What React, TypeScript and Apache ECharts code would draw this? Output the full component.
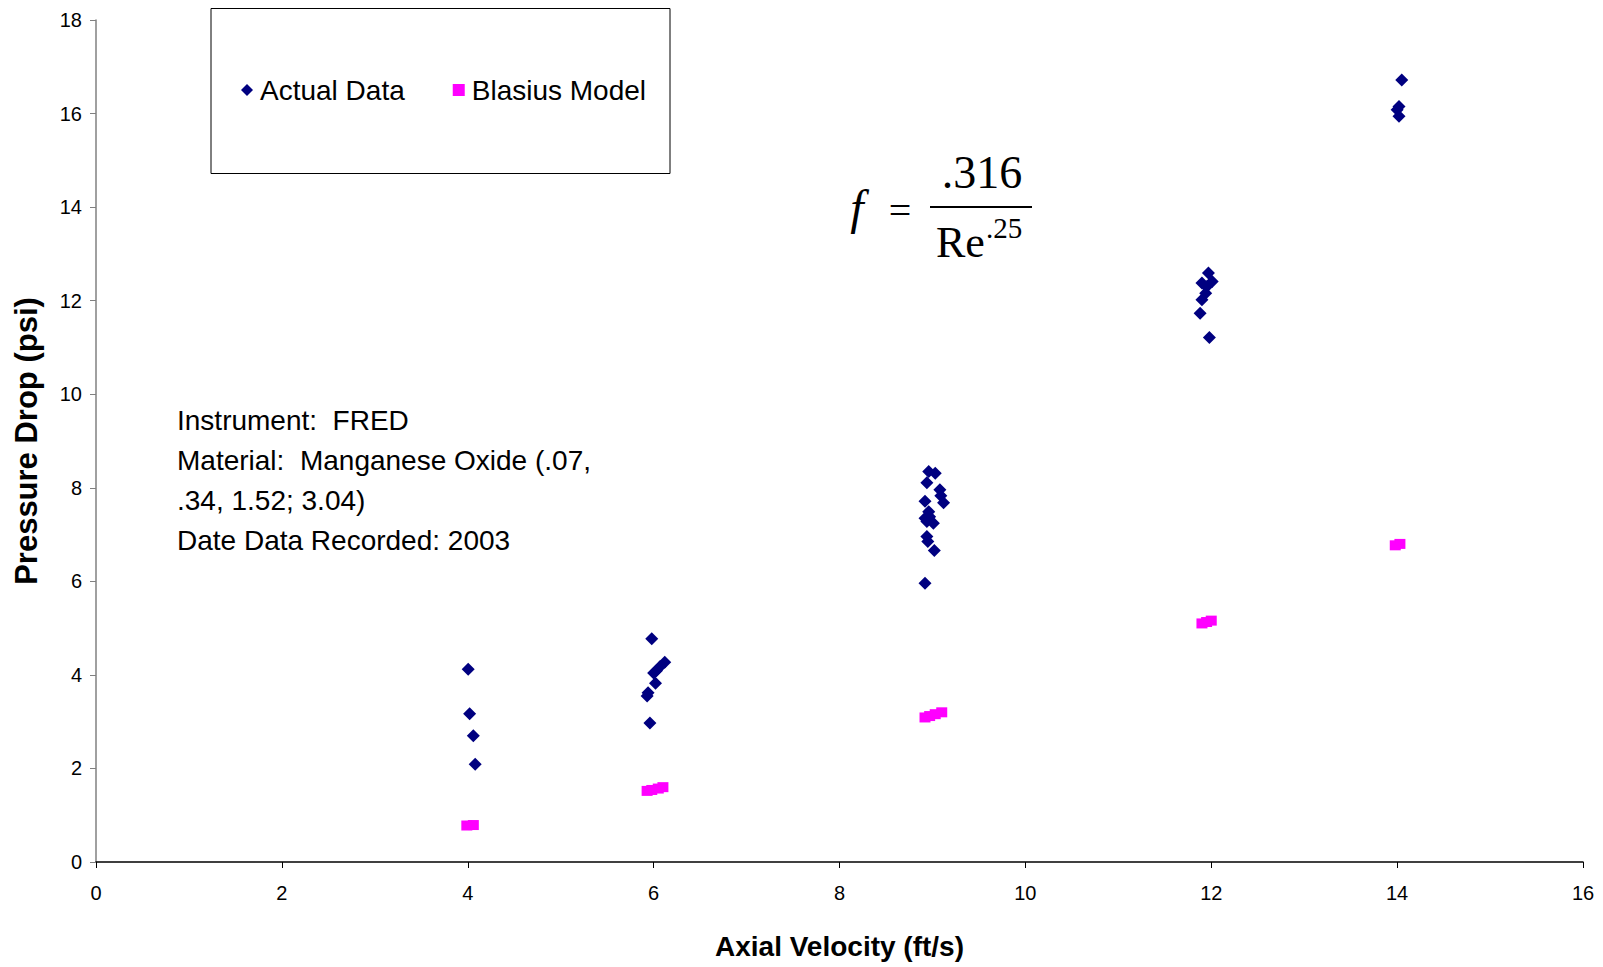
import React, { useEffect, useRef } from "react";
import * as echarts from "echarts";

const xTicks = [0, 2, 4, 6, 8, 10, 12, 14, 16];
const yTicks = [0, 2, 4, 6, 8, 10, 12, 14, 16, 18];

const actualX = [
  4.005, 4.02, 4.06, 4.08,
  5.98, 6.12, 6.07, 6.03, 6.0, 6.02, 5.94, 5.93, 5.96,
  8.96, 9.03, 8.94, 9.08, 9.09, 9.12, 8.92, 8.96, 8.92, 8.97, 9.01, 8.94, 8.94, 8.95, 9.02, 8.92,
  11.97, 12.01, 11.9, 11.95, 11.94, 11.9, 11.88, 11.98,
  14.05, 14.02, 14.0, 14.02,
];
const actualY = [
  4.12, 3.17, 2.7, 2.09,
  4.77, 4.27, 4.18, 4.09, 4.04, 3.82, 3.62, 3.55, 2.97,
  8.35, 8.31, 8.11, 7.96, 7.83, 7.68, 7.71, 7.49, 7.35, 7.38, 7.24, 7.28, 6.96, 6.85, 6.66, 5.96,
  12.59, 12.41, 12.38, 12.3, 12.16, 12.02, 11.73, 11.21,
  16.72, 16.15, 16.08, 15.94,
];

const blasiusX = [3.99, 4.06, 5.93, 5.98, 6.05, 6.1, 8.92, 8.97, 9.03, 9.1, 11.9, 11.95, 12.0, 13.98, 14.03];
const blasiusY = [0.78, 0.79, 1.52, 1.54, 1.57, 1.6, 3.09, 3.12, 3.16, 3.2, 5.1, 5.13, 5.16, 6.77, 6.8];

const seriesNames = ["Actual Data", "Blasius Model"];
const xAxisTitle = "Axial Velocity (ft/s)";
const yAxisTitle = "Pressure Drop (psi)";
const noteLines = [
  "Instrument:  FRED",
  "Material:  Manganese Oxide (.07,",
  ".34, 1.52; 3.04)",
  "Date Data Recorded: 2003",
];

export default function App() {
  const ref = useRef<HTMLDivElement>(null);
  useEffect(() => {
    document.body.style.margin = "0";
    if (!ref.current) return;
    const chart = echarts.init(ref.current, undefined, { renderer: "svg" });
    const sans = "'Liberation Sans', Arial, sans-serif";
    const serif = "'Liberation Serif', 'Times New Roman', serif";
    chart.setOption({
      animation: false,
      backgroundColor: "#fff",
      grid: { left: 96, right: 20, top: 20, bottom: 105, containLabel: false },
      xAxis: {
        type: "value",
        min: xTicks[0],
        max: xTicks[xTicks.length - 1],
        interval: 2,
        name: xAxisTitle,
        nameLocation: "middle",
        nameGap: 70,
        nameTextStyle: { fontFamily: sans, fontWeight: "bold", fontSize: 28, color: "#000" },
        axisLine: { show: true, onZero: false, lineStyle: { color: "#000", width: 1.5 } },
        axisTick: { show: true, inside: false, length: 6, lineStyle: { color: "#000" } },
        axisLabel: { fontFamily: sans, fontSize: 20, color: "#000", margin: 21 },
        splitLine: { show: false },
      },
      yAxis: {
        type: "value",
        min: yTicks[0],
        max: yTicks[yTicks.length - 1],
        interval: 2,
        name: yAxisTitle,
        nameLocation: "middle",
        nameGap: 54,
        nameTextStyle: { fontFamily: sans, fontWeight: "bold", fontSize: 31, color: "#000" },
        axisLine: { show: true, onZero: false, lineStyle: { color: "#808080", width: 1.5 } },
        axisTick: { show: true, inside: false, length: 6, lineStyle: { color: "#808080" } },
        axisLabel: { fontFamily: sans, fontSize: 20, color: "#000", margin: 14 },
        splitLine: { show: false },
      },
      legend: {
        left: 236,
        top: 71,
        itemGap: 48,
        itemWidth: 12,
        itemHeight: 12,
        textStyle: { fontFamily: sans, fontSize: 28, color: "#000", padding: [0, 0, 0, 2] },
        data: [
          { name: seriesNames[0], icon: "diamond", itemStyle: { color: "#000080", opacity: 1 } },
          { name: seriesNames[1], icon: "rect", itemStyle: { color: "#FF00FF", opacity: 1 } },
        ],
      },
      graphic: [
        {
          type: "rect",
          shape: { x: 211, y: 8.5, width: 459, height: 165 },
          style: { fill: "none", stroke: "#000", lineWidth: 1 },
          z: 10,
        },
        {
          type: "text",
          x: 177,
          y: 400,
          style: {
            text: noteLines.join("\n"),
            fontFamily: sans,
            fontSize: 28,
            lineHeight: 40,
            fill: "#000",
            align: "left",
            verticalAlign: "top",
          },
        },
        {
          type: "text",
          x: 857,
          y: 207,
          style: { text: "f", fontFamily: serif, fontStyle: "italic", fontSize: 48, fill: "#000", align: "center", verticalAlign: "middle" },
        },
        {
          type: "text",
          x: 900,
          y: 210,
          style: { text: "=", fontFamily: serif, fontSize: 40, fill: "#000", align: "center", verticalAlign: "middle" },
        },
        {
          type: "text",
          x: 982,
          y: 172,
          style: { text: ".316", fontFamily: serif, fontSize: 46, fill: "#000", align: "center", verticalAlign: "middle" },
        },
        {
          type: "line",
          shape: { x1: 930, y1: 207, x2: 1032, y2: 207 },
          style: { stroke: "#000", lineWidth: 2 },
        },
        {
          type: "text",
          x: 936,
          y: 242,
          style: { text: "Re", fontFamily: serif, fontSize: 44, fill: "#000", align: "left", verticalAlign: "middle" },
        },
        {
          type: "text",
          x: 986,
          y: 228,
          style: { text: ".25", fontFamily: serif, fontSize: 29, fill: "#000", align: "left", verticalAlign: "middle" },
        },
      ],
      series: [
        {
          name: seriesNames[0],
          type: "scatter",
          symbol: "diamond",
          symbolSize: 13,
          itemStyle: { color: "#000080", opacity: 1 },
          data: actualX.map((x, i) => [x, actualY[i]]),
        },
        {
          name: seriesNames[1],
          type: "scatter",
          symbol: "rect",
          symbolSize: [11, 10],
          itemStyle: { color: "#FF00FF", opacity: 1 },
          data: blasiusX.map((x, i) => [x, blasiusY[i]]),
        },
      ],
    });
    return () => chart.dispose();
  }, []);
  return <div ref={ref} style={{ width: 1603, height: 967 }} />;
}
